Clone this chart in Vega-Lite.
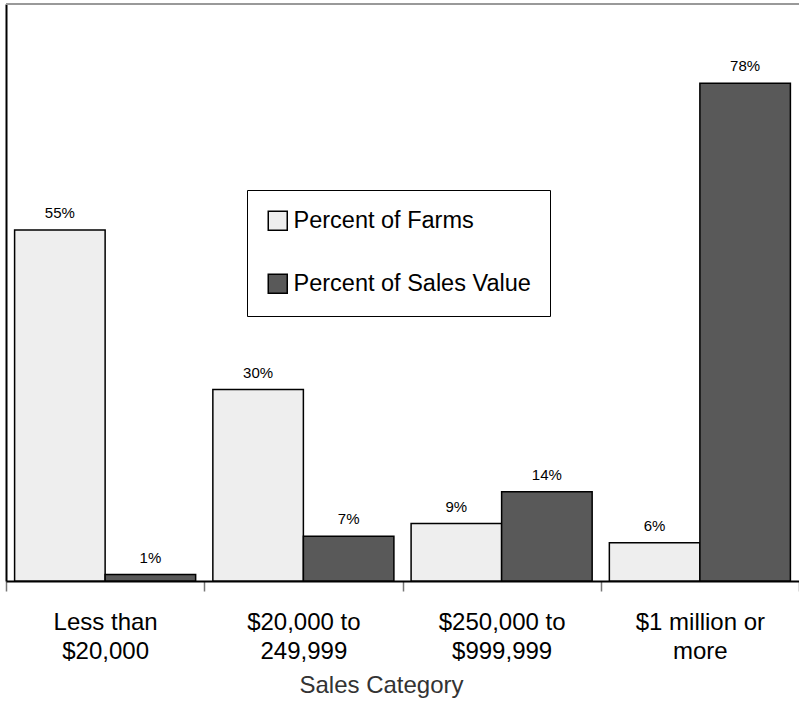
{
  "$schema": "https://vega.github.io/schema/vega-lite/v6.json",
  "width": 793,
  "height": 577,
  "autosize": {"type": "none"},
  "padding": {"left": 6, "top": 4, "right": 0, "bottom": 121},
  "background": "white",
  "config": {"view": {"stroke": null}, "font": "Liberation Sans"},
  "data": {
    "values": [
      {"category": "Less than|$20,000", "series": "Percent of Farms", "value": 0.55},
      {"category": "Less than|$20,000", "series": "Percent of Sales Value", "value": 0.01},
      {"category": "$20,000 to|249,999", "series": "Percent of Farms", "value": 0.30},
      {"category": "$20,000 to|249,999", "series": "Percent of Sales Value", "value": 0.07},
      {"category": "$250,000 to|$999,999", "series": "Percent of Farms", "value": 0.09},
      {"category": "$250,000 to|$999,999", "series": "Percent of Sales Value", "value": 0.14},
      {"category": "$1 million or|more", "series": "Percent of Farms", "value": 0.06},
      {"category": "$1 million or|more", "series": "Percent of Sales Value", "value": 0.78}
    ]
  },
  "layer": [
    {
      "mark": {"type": "bar", "stroke": "black", "strokeWidth": 1.5},
      "encoding": {
        "x": {
          "field": "category", "type": "nominal",
          "sort": ["Less than|$20,000", "$20,000 to|249,999", "$250,000 to|$999,999", "$1 million or|more"],
          "scale": {"paddingInner": 0, "paddingOuter": 0},
          "axis": {
            "title": "Sales Category",
            "labelExpr": "split(datum.label, '|')",
            "labelAngle": 0,
            "labelFontSize": 24,
            "labelColor": "black",
            "labelLineHeight": 29,
            "labelBaseline": "top",
            "labelPadding": 19,
            "labelLimit": 0,
            "tickBand": "extent",
            "tickColor": "#777",
            "tickSize": 10,
            "tickWidth": 1.5,
            "domainColor": "black",
            "domainWidth": 2,
            "titleFontSize": 24,
            "titleFontWeight": "normal",
            "titleColor": "#333",
            "titleBaseline": "alphabetic",
            "titleY": 111,
            "titleX": 375
          }
        },
        "xOffset": {
          "field": "series", "type": "nominal",
          "sort": ["Percent of Farms", "Percent of Sales Value"],
          "scale": {"paddingInner": 0, "paddingOuter": 0.095}
        },
        "y": {
          "field": "value", "type": "quantitative",
          "scale": {"domain": [0, 0.904], "nice": false},
          "axis": {"title": null, "labels": false, "ticks": false, "grid": false, "domainColor": "black", "domainWidth": 2}
        },
        "color": {
          "field": "series", "type": "nominal",
          "scale": {"domain": ["Percent of Farms", "Percent of Sales Value"], "range": ["#eeeeee", "#595959"]},
          "legend": {
            "orient": "none",
            "legendX": 241,
            "legendY": 186,
            "title": null,
            "fillColor": "white",
            "strokeColor": "black",
            "padding": 19,
            "symbolType": "square",
            "symbolSize": 361,
            "symbolStrokeColor": "black",
            "symbolStrokeWidth": 1.5,
            "labelFontSize": 23.5,
            "labelColor": "black",
            "labelOffset": 4,
            "rowPadding": 37,
            "labelLimit": 0
          }
        }
      }
    },
    {
      "mark": {"type": "text", "baseline": "alphabetic", "dy": -12, "fontSize": 15, "color": "black"},
      "encoding": {
        "x": {"field": "category", "type": "nominal", "sort": ["Less than|$20,000", "$20,000 to|249,999", "$250,000 to|$999,999", "$1 million or|more"]},
        "xOffset": {"field": "series", "type": "nominal", "sort": ["Percent of Farms", "Percent of Sales Value"]},
        "y": {"field": "value", "type": "quantitative"},
        "text": {"field": "value", "type": "quantitative", "format": ".0%"}
      }
    },
    {
      "data": {"values": [{"top": 0.904}]},
      "mark": {"type": "rule", "color": "#999", "strokeWidth": 2},
      "encoding": {"y": {"field": "top", "type": "quantitative"}}
    }
  ]
}
